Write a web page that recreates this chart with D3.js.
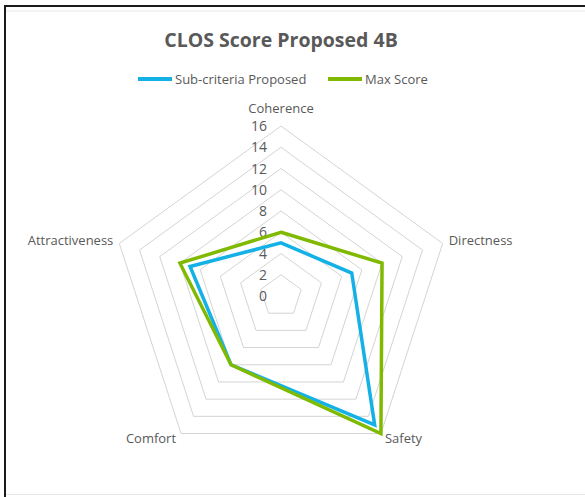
<!DOCTYPE html>
<html>
<head>
<meta charset="utf-8">
<script src="https://cdn.jsdelivr.net/npm/d3@7"></script>
<style>
  html, body { margin: 0; padding: 0; background: #fff; }
  svg { display: block; }
  text { font-family: "Open Sans", sans-serif; fill: #595959; }
</style>
</head>
<body>
<svg id="chart" width="585" height="497"></svg>
<script>
const categories = ["Coherence", "Directness", "Safety", "Comfort", "Attractiveness"];
const seriesNames = ["Sub-criteria Proposed", "Max Score"];
const subCriteria = [5, 7, 15, 8, 9];
const maxScore = [6, 10, 16, 8, 10];
const tickValues = [0, 2, 4, 6, 8, 10, 12, 14, 16];
const colors = ["#14B1E7", "#7FBA00"];

const svg = d3.select("#chart");
const W = 585, H = 497;
const cx = 281, cy = 296, R = 170;

// frame
svg.append("line").attr("x1", 5).attr("x2", W).attr("y1", 6).attr("y2", 6)
  .attr("stroke", "#1a1a1a").attr("stroke-width", 2);
svg.append("line").attr("x1", 5).attr("x2", 5).attr("y1", 5).attr("y2", H)
  .attr("stroke", "#1a1a1a").attr("stroke-width", 2);
svg.append("line").attr("x1", 6).attr("x2", W).attr("y1", 11).attr("y2", 11)
  .attr("stroke", "#e6e6e6").attr("stroke-width", 1);
svg.append("line").attr("x1", 6).attr("x2", W).attr("y1", 494.5).attr("y2", 494.5)
  .attr("stroke", "#e6e6e6").attr("stroke-width", 1);

const r = d3.scaleLinear().domain([0, 16]).range([0, R]);
const angle = d3.scalePoint().domain(categories).range([0, 2 * Math.PI * (categories.length - 1) / categories.length]);

function pt(cat, v) {
  const a = angle(cat);
  return [cx + r(v) * Math.sin(a), cy - r(v) * Math.cos(a)];
}

// grid rings
const g = svg.append("g");
tickValues.filter(t => t > 0).forEach(t => {
  g.append("path")
    .attr("d", d3.line()(categories.map(c => pt(c, t))) + "Z")
    .attr("fill", "none").attr("stroke", "#d4d4d4").attr("stroke-width", 1);
});

// tick labels
tickValues.forEach(t => {
  svg.append("text")
    .attr("x", cx - 14).attr("y", cy - r(t))
    .attr("dy", "0.36em")
    .attr("text-anchor", "end")
    .attr("font-size", 14)
    .text(t);
});

// series
const line = d3.line();
[subCriteria, maxScore].forEach((vals, i) => {
  const pts = categories.map((c, j) => pt(c, vals[j]));
  svg.append("path")
    .attr("d", line(pts) + "Z")
    .attr("fill", "none")
    .attr("stroke", colors[i])
    .attr("stroke-width", 3.5)
    .attr("stroke-linejoin", "miter");
});

// category labels
categories.forEach(c => {
  const a = angle(c);
  const [x, y] = pt(c, 16);
  const s = Math.sin(a), co = Math.cos(a);
  let anchor = "middle", tx = x, ty = y;
  if (Math.abs(s) < 0.01) { ty = y - 18; }
  else if (s > 0) { anchor = "start"; tx = x + 6; ty = y + (co < 0 ? 5 : -3); }
  else { anchor = "end"; tx = x - 6; ty = y + (co < 0 ? 5 : -3); }
  if (co < 0) tx = x + (s > 0 ? 4 : -5);
  svg.append("text")
    .attr("x", tx).attr("y", ty).attr("dy", "0.36em")
    .attr("text-anchor", anchor).attr("font-size", 13)
    .text(c);
});

// title
svg.append("text")
  .attr("x", 281).attr("y", 47)
  .attr("text-anchor", "middle")
  .attr("font-size", 19.5).attr("font-weight", 700)
  .text("CLOS Score Proposed 4B");

// legend
const legendX = [138, 328];
seriesNames.forEach((n, i) => {
  svg.append("line")
    .attr("x1", legendX[i]).attr("x2", legendX[i] + 34)
    .attr("y1", 79).attr("y2", 79)
    .attr("stroke", colors[i]).attr("stroke-width", 4);
  svg.append("text")
    .attr("x", legendX[i] + 37).attr("y", 79).attr("dy", "0.36em")
    .attr("font-size", 13)
    .text(n);
});
</script>
</body>
</html>
